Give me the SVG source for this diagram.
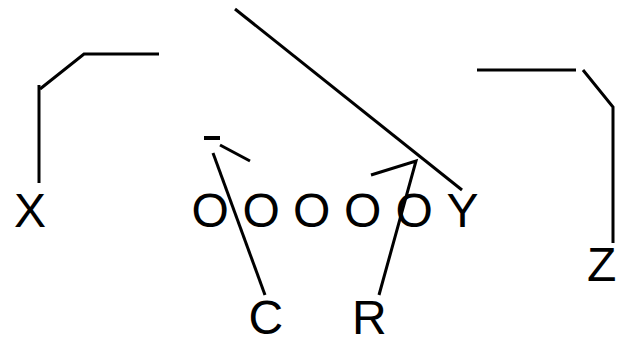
<svg xmlns="http://www.w3.org/2000/svg" width="625" height="338" viewBox="0 0 625 338">
<style>
.c{fill:none;stroke:#000;stroke-width:3;stroke-linejoin:miter}
.t{font-family:"Liberation Sans",Arial,sans-serif;font-size:48px;fill:#000}
</style>
<rect width="625" height="338" fill="#fff"/>
<g id="connectors">
<line class="c" x1="39" y1="85" x2="39" y2="183"/>
<polyline class="c" points="40,89 84,54 159,54"/>
<line class="c" x1="235" y1="9" x2="462" y2="190"/>
<line class="c" x1="204" y1="138" x2="220" y2="138" style="stroke-width:4"/>
<line class="c" x1="220" y1="145" x2="250" y2="161"/>
<line class="c" x1="213" y1="153" x2="265" y2="295"/>
<polyline class="c" points="379,295 416,161 371,175"/>
<line class="c" x1="477" y1="70" x2="576" y2="70"/>
<polyline class="c" points="583,70 613,107 613,243"/>
</g>
<g id="node-X"><text class="t" x="14" y="227">X</text></g>
<g id="node-O1"><text class="t" x="191.5" y="227">O</text></g>
<g id="node-O2"><text class="t" x="242.5" y="227">O</text></g>
<g id="node-O3"><text class="t" x="293" y="227">O</text></g>
<g id="node-O4"><text class="t" x="344" y="227">O</text></g>
<g id="node-O5"><text class="t" x="395.5" y="227">O</text></g>
<g id="node-Y"><text class="t" x="446.5" y="227">Y</text></g>
<g id="node-C"><text class="t" x="248.5" y="334">C</text></g>
<g id="node-R"><text class="t" x="352" y="334">R</text></g>
<g id="node-Z"><text class="t" x="587" y="281">Z</text></g>
</svg>
